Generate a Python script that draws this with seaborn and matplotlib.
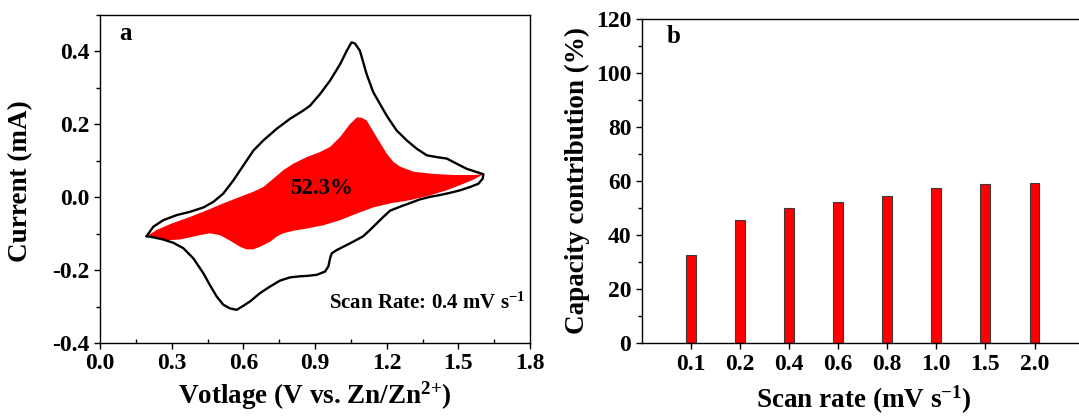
import numpy as np
import pandas as pd
import matplotlib
matplotlib.use("Agg")
import matplotlib.pyplot as plt
import seaborn as sns
from matplotlib.ticker import MultipleLocator, FormatStrFormatter

# ---------------- Panel a: CV curve (V, mA) ----------------
# anodic (upper) branch, left -> right
cv_up_V = [0.195, 0.223, 0.265, 0.321, 0.377, 0.433, 0.474, 0.516, 0.558, 0.600,
           0.642, 0.684, 0.740, 0.795, 0.851, 0.879, 0.921, 0.963, 1.005, 1.033,
           1.053, 1.067, 1.088, 1.116, 1.144, 1.172, 1.200, 1.214, 1.242, 1.284,
           1.326, 1.368, 1.410, 1.452, 1.493, 1.535, 1.577, 1.605]
cv_up_I = [-0.107, -0.081, -0.063, -0.049, -0.040, -0.028, -0.013, 0.010, 0.046, 0.087,
           0.128, 0.156, 0.188, 0.215, 0.238, 0.251, 0.283, 0.320, 0.365, 0.402,
           0.425, 0.422, 0.402, 0.338, 0.288, 0.256, 0.224, 0.210, 0.183, 0.156,
           0.133, 0.115, 0.110, 0.106, 0.092, 0.078, 0.069, 0.063]
# cathodic (lower) branch, right -> left
cv_down_V = [1.602, 1.584, 1.549, 1.507, 1.465, 1.423, 1.381, 1.339, 1.298, 1.256,
             1.214, 1.186, 1.158, 1.130, 1.102, 1.060, 1.018, 0.991, 0.970, 0.963,
             0.956, 0.942, 0.907, 0.865, 0.837, 0.795, 0.753, 0.712, 0.670, 0.628,
             0.600, 0.572, 0.544, 0.516, 0.488, 0.460, 0.433, 0.391, 0.349, 0.307,
             0.265, 0.223, 0.195]
cv_down_I = [0.051, 0.037, 0.028, 0.019, 0.012, 0.006, 0.001, -0.006, -0.016, -0.026,
             -0.037, -0.054, -0.072, -0.090, -0.107, -0.122, -0.136, -0.145, -0.154, -0.168,
             -0.190, -0.204, -0.213, -0.216, -0.217, -0.220, -0.229, -0.245, -0.263, -0.286,
             -0.298, -0.309, -0.305, -0.295, -0.272, -0.241, -0.209, -0.168, -0.140, -0.125,
             -0.116, -0.110, -0.107]

# capacitive contribution region: upper boundary (left -> right)
cap_up_V = [0.195, 0.237, 0.293, 0.377, 0.447, 0.516, 0.586, 0.642, 0.684, 0.726,
            0.767, 0.809, 0.865, 0.921, 0.963, 1.005, 1.047, 1.076, 1.095, 1.116,
            1.158, 1.200, 1.228, 1.256, 1.312, 1.395, 1.479, 1.563, 1.605]
cap_up_I = [-0.107, -0.090, -0.074, -0.054, -0.036, -0.017, 0.001, 0.015, 0.028, 0.051,
            0.074, 0.092, 0.110, 0.124, 0.138, 0.165, 0.201, 0.219, 0.218, 0.211,
            0.165, 0.120, 0.097, 0.084, 0.070, 0.064, 0.061, 0.061, 0.063]
# lower boundary (right -> left)
cap_low_V = [1.605, 1.563, 1.507, 1.451, 1.381, 1.298, 1.214, 1.144, 1.074, 1.005,
             0.935, 0.865, 0.809, 0.767, 0.740, 0.712, 0.670, 0.642, 0.614, 0.586,
             0.544, 0.502, 0.460, 0.419, 0.377, 0.335, 0.279, 0.237, 0.195]
cap_low_I = [0.063, 0.048, 0.033, 0.019, 0.005, -0.008, -0.017, -0.028, -0.045, -0.063,
             -0.077, -0.086, -0.092, -0.099, -0.108, -0.122, -0.136, -0.143, -0.143, -0.136,
             -0.119, -0.104, -0.099, -0.104, -0.110, -0.116, -0.118, -0.113, -0.107]

# ---------------- Panel b: capacitive contribution ----------------
scan_rates = ["0.1", "0.2", "0.4", "0.6", "0.8", "1.0", "1.5", "2.0"]
contribution = [32.8, 45.5, 50.1, 52.3, 54.4, 57.4, 58.9, 59.5]

sns.set_theme(style="ticks")
plt.rcParams['font.family'] = ['Liberation Serif', 'DejaVu Serif']
plt.rcParams['font.weight'] = 'bold'
plt.rcParams['axes.labelweight'] = 'bold'
plt.rcParams['axes.unicode_minus'] = False
plt.rcParams['text.color'] = 'black'
plt.rcParams['axes.labelcolor'] = 'black'
plt.rcParams['xtick.color'] = 'black'
plt.rcParams['ytick.color'] = 'black'
plt.rcParams['axes.edgecolor'] = 'black'
plt.rcParams['mathtext.fontset'] = 'custom'
plt.rcParams['mathtext.rm'] = 'Liberation Serif:bold'
plt.rcParams['mathtext.it'] = 'Liberation Serif:bold'
plt.rcParams['mathtext.bf'] = 'Liberation Serif:bold'
plt.rcParams['mathtext.default'] = 'rm'

W, H = 1079, 416
fig = plt.figure(figsize=(W / 100, H / 100), dpi=100)
fig.patch.set_facecolor('white')

axA = fig.add_axes([100 / W, (H - 343) / H, 430 / W, 328 / H])
axB = fig.add_axes([641.7 / W, (H - 343.3) / H, 441.9 / W, 324.3 / H])

TICK = 17
LABEL = 19.5

# ----- panel a -----
cv = pd.DataFrame({"V": cv_up_V + cv_down_V, "I": cv_up_I + cv_down_I})
axA.fill(cap_up_V + cap_low_V, cap_up_I + cap_low_I, color='#ff0000', lw=0, zorder=2)
sns.lineplot(data=cv, x="V", y="I", sort=False, estimator=None, color='black',
             lw=1.7, ax=axA, zorder=3)
axA.set_xlim(0, 1.8)
axA.set_ylim(-0.4, 0.5)
axA.xaxis.set_major_locator(MultipleLocator(0.3))
axA.xaxis.set_minor_locator(MultipleLocator(0.15))
axA.yaxis.set_major_locator(MultipleLocator(0.2))
axA.yaxis.set_minor_locator(MultipleLocator(0.1))
axA.xaxis.set_major_formatter(FormatStrFormatter('%.1f'))
axA.yaxis.set_major_formatter(FormatStrFormatter('%.1f'))
axA.set_xlabel("Votlage (V vs. Zn/Zn$^{2{+}}$)", fontsize=LABEL, fontweight='bold')
axA.set_ylabel("Current (mA)", fontsize=LABEL, fontweight='bold')
axA.xaxis.set_label_coords(0.5, -0.112)
axA.yaxis.set_label_coords(-0.155, 0.494)
axA.text(0.045, 0.945, "a", transform=axA.transAxes, fontsize=18, fontweight='bold',
         ha='left', va='center')
axA.text(0.928, 0.024, "52.3%", fontsize=16.5, fontweight='bold', ha='center', va='center',
         zorder=4)
axA.text(0.988, 0.12, "Scan Rate: 0.4 mV s$^{{-}1}$", transform=axA.transAxes,
         fontsize=15, fontweight='bold', ha='right', va='center')

# ----- panel b -----
sns.barplot(x=scan_rates, y=contribution, color='#ff0000', saturation=1, width=0.2,
            edgecolor='#3a3a3a', linewidth=0.8, ax=axB)
axB.set_xlim(-1, 8)
axB.set_ylim(0, 120)
axB.yaxis.set_major_locator(MultipleLocator(20))
axB.yaxis.set_minor_locator(MultipleLocator(10))
axB.set_xlabel("Scan rate (mV s$^{{-}1}$)", fontsize=LABEL, fontweight='bold')
axB.set_ylabel("Capacity contribution (%)", fontsize=LABEL, fontweight='bold')
axB.xaxis.set_label_coords(0.502, -0.125)
axB.yaxis.set_label_coords(-0.117, 0.501)
axB.text(0.057, 0.945, "b", transform=axB.transAxes, fontsize=18, fontweight='bold',
         ha='left', va='center')

for ax in (axA, axB):
    for s in ax.spines.values():
        s.set_visible(True)
        s.set_color('black')
        s.set_linewidth(1.0)
    ax.tick_params(which='major', direction='out', length=4.5, width=1.0,
                   labelsize=TICK, pad=3, color='black', labelcolor='black',
                   top=False, right=False)
    ax.tick_params(which='minor', direction='out', length=3, width=1.0,
                   color='black', top=False, right=False)
    for lab in ax.get_xticklabels() + ax.get_yticklabels():
        lab.set_fontweight('bold')
axA.tick_params(axis='x', which='minor', direction='in')
axB.tick_params(axis='x', which='minor', bottom=False)

fig.savefig("out.png", dpi=100, facecolor='white')
